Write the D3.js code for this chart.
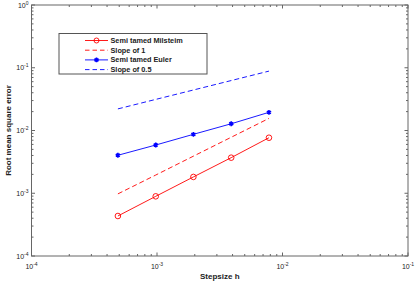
<!DOCTYPE html>
<html>
<head>
<meta charset="utf-8">
<script src="https://cdn.jsdelivr.net/npm/d3@7"></script>
<style>
  body { margin: 0; background: #fff; }
  svg { display: block; font-family: "Liberation Sans", Arial, sans-serif; }
</style>
</head>
<body>
<svg width="415" height="283"></svg>
<script>
// step sizes h = 2^-11 .. 2^-7
const stepsize = [0.000488, 0.000977, 0.00195, 0.0039, 0.0078]
const milstein = [0.000434, 0.000893, 0.00182, 0.00369, 0.00767]
const slope1 = [0.000977, 0.00195, 0.0039, 0.0078, 0.0156]
const euler = [0.00403, 0.00587, 0.00869, 0.0128, 0.0195]
const slopeHalf = [0.0221, 0.0313, 0.0442, 0.0625, 0.0884]
const xTickExp = [-4, -3, -2, -1]
const yTickExp = [-4, -3, -2, -1, 0]

const series = [
  { name: 'Semi tamed Milsteim', values: milstein, color: '#ff0000', dash: null, marker: 'circle' },
  { name: 'Slope of 1', values: slope1, color: '#ff0000', dash: '5,3', marker: null },
  { name: 'Semi tamed Euler', values: euler, color: '#0000ff', dash: null, marker: 'star' },
  { name: 'Slope of 0.5', values: slopeHalf, color: '#0000ff', dash: '5,3', marker: null }
]

const margin = { top: 5, right: 7, bottom: 27, left: 31.5 }
const width = 415
const height = 283
const svg = d3.select('svg')

const x = d3.scaleLog()
  .domain([1e-4, 1e-1])
  .range([margin.left, width - margin.right])

const y = d3.scaleLog()
  .domain([1e-4, 1])
  .range([height - margin.bottom, margin.top])

const axisColor = '#666'

// minor ticks
const minorX = []
for (let e = -4; e < -1; e++) for (let m = 2; m <= 9; m++) minorX.push(m * Math.pow(10, e))
const minorY = []
for (let e = -4; e < 0; e++) for (let m = 2; m <= 9; m++) minorY.push(m * Math.pow(10, e))

const frame = svg.append('g')
  .attr('stroke', axisColor)
  .attr('stroke-width', 1)

frame.append('rect')
  .attr('x', x.range()[0])
  .attr('y', y.range()[1])
  .attr('width', x.range()[1] - x.range()[0])
  .attr('height', y.range()[0] - y.range()[1])
  .attr('fill', 'none')

const yb = y.range()[0], yt = y.range()[1]
const xl = x.range()[0], xr = x.range()[1]

const xTicks = [
  ...xTickExp.map(e => ({ v: Math.pow(10, e), len: 3.5 })),
  ...minorX.map(v => ({ v, len: 2 }))
]
frame.selectAll('.xt-b').data(xTicks).join('line')
  .attr('x1', d => x(d.v)).attr('x2', d => x(d.v))
  .attr('y1', yb).attr('y2', d => yb - d.len)
frame.selectAll('.xt-t').data(xTicks).join('line')
  .attr('class', 'xt-t')
  .attr('x1', d => x(d.v)).attr('x2', d => x(d.v))
  .attr('y1', yt).attr('y2', d => yt + d.len)

const yTicks = [
  ...yTickExp.map(e => ({ v: Math.pow(10, e), len: 3.5 })),
  ...minorY.map(v => ({ v, len: 2 }))
]
frame.selectAll('.yt-l').data(yTicks).join('line')
  .attr('class', 'yt-l')
  .attr('y1', d => y(d.v)).attr('y2', d => y(d.v))
  .attr('x1', xl).attr('x2', d => xl + d.len)
frame.selectAll('.yt-r').data(yTicks).join('line')
  .attr('class', 'yt-r')
  .attr('y1', d => y(d.v)).attr('y2', d => y(d.v))
  .attr('x1', xr).attr('x2', d => xr - d.len)

// tick labels
const labels = svg.append('g').attr('font-size', 7).attr('fill', '#222')

labels.selectAll('.xl').data(xTickExp).join('text')
  .attr('class', 'xl')
  .attr('x', d => x(Math.pow(10, d)))
  .attr('y', yb + 13)
  .attr('text-anchor', 'middle')
  .call(t => {
    t.append('tspan').text('10')
    t.append('tspan').attr('dy', -3).attr('font-size', 5).text(d => d)
  })

labels.selectAll('.yl').data(yTickExp).join('text')
  .attr('class', 'yl')
  .attr('x', xl - 3)
  .attr('y', d => y(Math.pow(10, d)) + 2.5)
  .attr('text-anchor', 'end')
  .call(t => {
    t.append('tspan').text('10')
    t.append('tspan').attr('dy', -3).attr('font-size', 5).text(d => d)
  })

// axis titles
svg.append('text')
  .attr('x', (xl + xr) / 2)
  .attr('y', 279)
  .attr('text-anchor', 'middle')
  .attr('font-size', 8)
  .attr('font-weight', 'bold')
  .attr('fill', '#222')
  .text('Stepsize h')

svg.append('text')
  .attr('transform', `translate(11,${(yb + yt) / 2}) rotate(-90)`)
  .attr('text-anchor', 'middle')
  .attr('font-size', 8)
  .attr('font-weight', 'bold')
  .attr('fill', '#222')
  .text('Root mean square error')

// series
const line = d3.line()
  .x(d => x(d[0]))
  .y(d => y(d[1]))

const starPath = d3.symbol().type(d3.symbolAsterisk).size(16)

series.forEach(s => {
  const pts = stepsize.map((h, i) => [h, s.values[i]])
  svg.append('path')
    .datum(pts)
    .attr('d', line)
    .attr('fill', 'none')
    .attr('stroke', s.color)
    .attr('stroke-width', 0.9)
    .attr('stroke-dasharray', s.dash)
  if (s.marker === 'circle') {
    svg.append('g').selectAll('circle').data(pts).join('circle')
      .attr('cx', d => x(d[0])).attr('cy', d => y(d[1]))
      .attr('r', 2.8)
      .attr('fill', 'none')
      .attr('stroke', s.color)
      .attr('stroke-width', 0.9)
  } else if (s.marker === 'star') {
    svg.append('g').selectAll('path').data(pts).join('path')
      .attr('transform', d => `translate(${x(d[0])},${y(d[1])})`)
      .attr('d', starPath)
      .attr('fill', 'none')
      .attr('stroke', s.color)
      .attr('stroke-width', 1.6)
  }
})

// legend
const legend = svg.append('g')
legend.append('rect')
  .attr('x', 59).attr('y', 33.5)
  .attr('width', 148).attr('height', 40.5)
  .attr('fill', '#fff')
  .attr('stroke', '#555')
  .attr('stroke-width', 1)

series.forEach((s, i) => {
  const ly = 40.5 + i * 9.7
  legend.append('line')
    .attr('x1', 85).attr('x2', 108)
    .attr('y1', ly).attr('y2', ly)
    .attr('stroke', s.color)
    .attr('stroke-width', 0.9)
    .attr('stroke-dasharray', s.dash ? '4.5,3' : null)
  if (s.marker === 'circle') {
    legend.append('circle')
      .attr('cx', 96.5).attr('cy', ly).attr('r', 2.5)
      .attr('fill', 'none').attr('stroke', s.color).attr('stroke-width', 0.9)
  } else if (s.marker === 'star') {
    legend.append('path')
      .attr('transform', `translate(96.5,${ly})`)
      .attr('d', starPath)
      .attr('fill', 'none').attr('stroke', s.color).attr('stroke-width', 1.6)
  }
  legend.append('text')
    .attr('x', 110.5).attr('y', ly + 2.5)
    .attr('font-size', 7.3)
    .attr('font-weight', 'bold')
    .attr('fill', '#222')
    .text(s.name)
})
</script>
</body>
</html>
